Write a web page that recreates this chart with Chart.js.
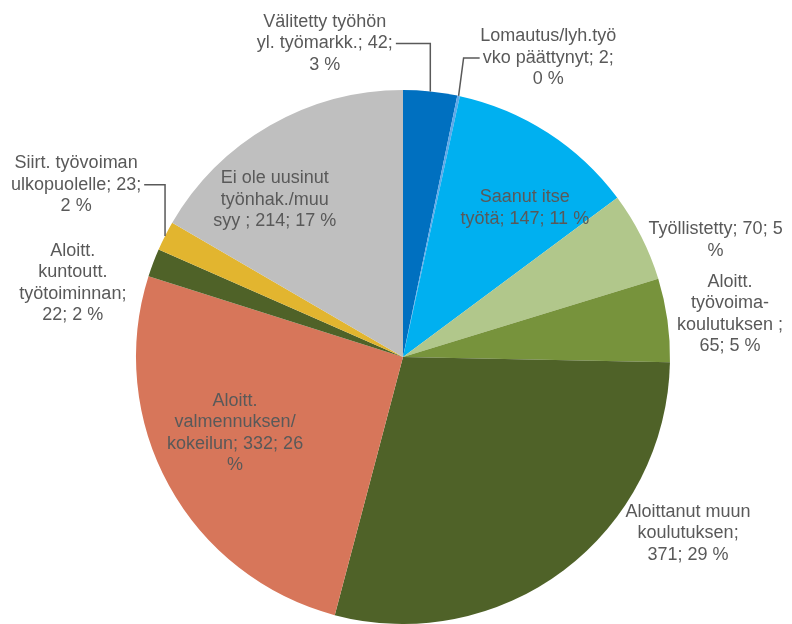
<!DOCTYPE html>
<html>
<head>
<meta charset="utf-8">
<script src="https://cdn.jsdelivr.net/npm/chart.js@4/dist/chart.umd.min.js"></script>
<style>
  html, body { margin: 0; padding: 0; background: #fff; }
  #wrap { width: 792px; height: 624px; position: relative; }
</style>
</head>
<body>
<div id="wrap"><canvas id="pie"></canvas></div>
<script>
// chart data (clockwise from 12 o'clock)
const categories = [
  'Välitetty työhön yl. työmarkk.',
  'Lomautus/lyh.työvko päättynyt',
  'Saanut itse työtä',
  'Työllistetty',
  'Aloitt. työvoima-koulutuksen ',
  'Aloittanut muun koulutuksen',
  'Aloitt. valmennuksen/ kokeilun',
  'Aloitt. kuntoutt. työtoiminnan',
  'Siirt. työvoiman ulkopuolelle',
  'Ei ole uusinut työnhak./muu syy '
];
const values = [42, 2, 147, 70, 65, 371, 332, 22, 23, 214];

// data label text as Excel wrapped it
const labelLines = [
  ['Välitetty työhön', 'yl. työmarkk.; 42;', '3 %'],
  ['Lomautus/lyh.työ', 'vko päättynyt; 2;', '0 %'],
  ['Saanut itse', 'työtä; 147; 11 %'],
  ['Työllistetty; 70; 5', '%'],
  ['Aloitt.', 'työvoima-', 'koulutuksen ;', '65; 5 %'],
  ['Aloittanut muun', 'koulutuksen;', '371; 29 %'],
  ['Aloitt.', 'valmennuksen/', 'kokeilun; 332; 26', '%'],
  ['Aloitt.', 'kuntoutt.', 'työtoiminnan;', '22; 2 %'],
  ['Siirt. työvoiman', 'ulkopuolelle; 23;', '2 %'],
  ['Ei ole uusinut', 'työnhak./muu', 'syy ; 214; 17 %']
];

const colors = ['#0070C0', '#5FA8E8', '#00B0F0', '#B1C78B', '#77933C',
                '#4F6228', '#D7765A', '#4F6228', '#E2B52F', '#BFBFBF'];

// label placement: angle from top (deg, clockwise), distance as share of radius, leader line?
const labelPlace = [
  { ang: 346, r: 1.21, leader: true },
  { ang: 25.9, r: 1.245, leader: true },
  { ang: 39.3, r: 0.72 },
  { ang: 69.5, r: 1.25 },
  { ang: 82.5, r: 1.235 },
  { ang: 121.7, r: 1.255 },
  { ang: 245.7, r: 0.69 },
  { ang: 282.6, r: 1.267 },
  { ang: 297.8, r: 1.384, leader: true },
  { ang: 320.8, r: 0.76 }
];

const FONT = '18px "Liberation Sans", Arial, sans-serif';
const LINE_H = 21.5;
const TEXT_COLOR = '#595959';

const pieLabels = {
  id: 'pieLabels',
  afterDatasetsDraw(chart) {
    const ctx = chart.ctx;
    const arcs = chart.getDatasetMeta(0).data;
    ctx.save();
    ctx.font = FONT;
    ctx.fillStyle = TEXT_COLOR;
    ctx.strokeStyle = TEXT_COLOR;
    ctx.lineWidth = 1.5;
    ctx.textAlign = 'center';
    ctx.textBaseline = 'middle';
    arcs.forEach((arc, i) => {
      const p = arc.getProps(['x', 'y', 'startAngle', 'endAngle', 'outerRadius'], true);
      const place = labelPlace[i];
      const a = (place.ang - 90) * Math.PI / 180;
      const cx = p.x + Math.cos(a) * p.outerRadius * place.r;
      const cy = p.y + Math.sin(a) * p.outerRadius * place.r;
      const lines = labelLines[i];
      const top = cy - (lines.length - 1) * LINE_H / 2;
      lines.forEach((t, k) => ctx.fillText(t, cx, top + k * LINE_H));

      if (place.leader) {
        const mid = (p.startAngle + p.endAngle) / 2;
        const ex = p.x + Math.cos(mid) * p.outerRadius;
        const ey = p.y + Math.sin(mid) * p.outerRadius;
        const midIdx = Math.floor(lines.length / 2);
        const ly = top + midIdx * LINE_H;
        const w = ctx.measureText(lines[midIdx]).width;
        const endX = cx < ex ? cx + w / 2 + 3 : cx - w / 2 - 3;
        ctx.beginPath();
        ctx.moveTo(ex, ey);
        ctx.lineTo(ex + (cx < ex ? 0 : 5), ly);
        ctx.lineTo(endX, ly);
        ctx.stroke();
      }
    });
    ctx.restore();
  }
};

new Chart(document.getElementById('pie'), {
  type: 'pie',
  data: {
    labels: categories,
    datasets: [{
      data: values,
      backgroundColor: colors,
      borderWidth: 0
    }]
  },
  options: {
    responsive: true,
    maintainAspectRatio: false,
    animation: false,
    layout: { padding: { top: 90, bottom: 0, left: 14, right: 0 } },
    plugins: {
      legend: { display: false },
      tooltip: { enabled: false }
    }
  },
  plugins: [pieLabels]
});
</script>
</body>
</html>
